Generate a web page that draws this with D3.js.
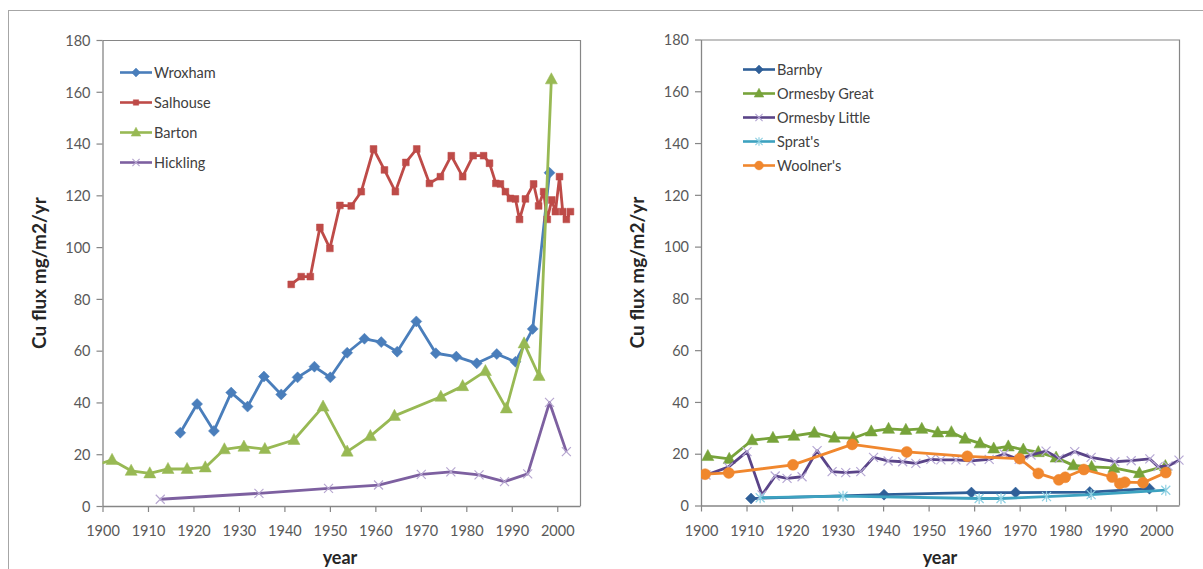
<!DOCTYPE html>
<html><head><meta charset="utf-8">
<script src="https://cdn.jsdelivr.net/npm/d3@7/dist/d3.min.js"></script>
<style>
body{margin:0;background:#fff;}
svg{display:block;font-family:Lato,"Open Sans",sans-serif;}
</style>
</head><body>
<svg id="c" width="1203" height="569"></svg>
<script>
// ---- tick labels ----
const xTicks = [1900,1910,1920,1930,1940,1950,1960,1970,1980,1990,2000];
const yTicks = [0,20,40,60,80,100,120,140,160,180];
const xDomain = [1900, 2005];
const yDomain = [0, 180];

// ---- left chart series: [year, Cu flux] ----
const wroxham = [[1917.1,28.3],[1920.8,39.4],[1924.5,29.0],[1928.3,43.8],[1931.9,38.4],[1935.5,50.0],[1939.3,43.1],[1942.9,49.7],[1946.6,53.8],[1950.1,49.7],[1953.8,59.2],[1957.6,64.6],[1961.3,63.3],[1964.8,59.6],[1969.0,71.3],[1973.3,59.0],[1977.8,57.7],[1982.3,55.1],[1986.7,58.7],[1990.8,55.7],[1994.6,68.4],[1998.3,128.7]];
const salhouse = [[1941.5,85.6],[1943.7,88.6],[1945.7,88.6],[1947.8,107.6],[1950.0,99.5],[1952.2,116.1],[1954.7,115.9],[1956.9,121.4],[1959.6,137.9],[1962.0,129.8],[1964.4,121.4],[1966.7,132.7],[1969.1,137.9],[1971.9,124.6],[1974.3,127.2],[1976.7,135.3],[1979.2,127.2],[1981.5,135.3],[1983.8,135.3],[1985.1,132.4],[1986.5,124.6],[1987.5,124.4],[1988.6,121.4],[1989.7,118.8],[1990.8,118.6],[1991.7,110.7],[1993.0,118.6],[1994.8,124.4],[1995.9,115.9],[1997.0,121.4],[1997.8,110.7],[1998.8,118.2],[1999.6,113.7],[2000.5,127.2],[2001.2,113.7],[2002.0,110.7],[2002.9,113.7]];
const barton = [[1898.5,15.8],[1902.1,17.8],[1906.3,13.6],[1910.4,12.6],[1914.4,14.3],[1918.6,14.3],[1922.6,14.9],[1926.8,21.9],[1931.1,22.9],[1935.7,22.0],[1942.1,25.5],[1948.5,38.4],[1953.8,21.0],[1958.9,27.0],[1964.2,34.8],[1974.4,42.2],[1979.2,46.3],[1984.2,52.1],[1988.8,37.7],[1992.7,62.8],[1996.0,50.2],[1998.7,164.8]];
const hickling = [[1912.7,2.6],[1934.4,4.9],[1949.7,6.8],[1960.7,8.1],[1970.1,12.2],[1976.6,13.2],[1982.8,12.0],[1988.4,9.4],[1993.5,12.4],[1998.3,40.0],[2002.0,21.0]];

// ---- right chart series ----
const barnby = [[1911.0,2.7],[1940.2,4.2],[1959.4,5.0],[1969.1,5.0],[1985.4,5.2],[1998.5,6.5]];
const ormesbyGreat = [[1901.5,19.1],[1906.2,18.0],[1911.2,25.2],[1915.8,26.1],[1920.4,26.9],[1924.9,28.1],[1929.3,26.2],[1933.4,26.0],[1937.4,28.6],[1941.2,29.6],[1945.0,29.2],[1948.5,29.6],[1952.0,28.2],[1955.0,28.3],[1958.0,25.8],[1961.3,24.0],[1964.3,22.0],[1967.5,22.8],[1970.8,21.6],[1974.1,20.6],[1978.0,18.5],[1981.8,15.5],[1985.8,14.9],[1990.7,14.5],[1996.3,12.5],[2002.0,15.2]];
const ormesbyLittle = [[1901.1,11.8],[1906.0,14.8],[1910.1,20.8],[1913.4,4.1],[1916.3,11.4],[1918.9,10.5],[1922.2,11.1],[1925.5,21.2],[1928.8,13.1],[1931.8,12.7],[1935.1,13.1],[1937.9,18.6],[1941.1,17.2],[1944.3,16.9],[1947.2,16.3],[1950.5,17.8],[1952.7,17.6],[1956.0,17.6],[1959.3,17.2],[1963.3,17.8],[1966.6,19.9],[1969.9,17.8],[1972.5,19.5],[1975.8,21.0],[1978.7,18.2],[1982.1,20.8],[1985.7,18.6],[1990.9,16.9],[1994.5,17.3],[1998.6,18.0],[2000.4,15.0],[2002.6,15.3],[2005.0,17.5]];
const sprats = [[1913.0,3.0],[1931.2,3.6],[1961.1,2.7],[1965.9,2.7],[1975.9,3.4],[1985.7,4.2],[2002.1,5.9]];
const woolners = [[1900.9,12.1],[1906.1,12.6],[1920.2,15.7],[1933.2,23.6],[1945.2,20.7],[1958.5,19.0],[1970.0,18.1],[1974.1,12.4],[1978.6,9.9],[1980.0,10.9],[1984.1,13.9],[1990.3,11.0],[1992.0,8.5],[1993.1,9.0],[1997.1,8.8],[2002.1,12.7]];

// ---- styling / layout ----
const svg = d3.select("#c");
const AX = "#868686", LBL = "#595959";

// outer frame
svg.append("rect").attr("x",8.5).attr("y",10.5).attr("width",1210).attr("height",580)
  .attr("fill","none").attr("stroke","#a6a6a6").attr("stroke-width",1);

function markerPath(type, s){
  switch(type){
    case "diamond": return `M0,${-s}L${s},0L0,${s}L${-s},0Z`;
    case "square": return `M${-s},${-s}H${s}V${s}H${-s}Z`;
    case "triangle": return `M0,${-s*1.1}L${s},${s*0.75}L${-s},${s*0.75}Z`;
    case "x": return `M${-s},${-s}L${s},${s}M${-s},${s}L${s},${-s}`;
    case "star": return `M${-s},${-s}L${s},${s}M${-s},${s}L${s},${-s}M0,${-s*1.2}V${s*1.2}`;
    case "circle": return d3.symbol(d3.symbolCircle, Math.PI*s*s)();
  }
}
const filled = t => t==="diamond"||t==="square"||t==="triangle"||t==="circle";

function chart(opts){
  const {x0,x1,y0,y1,series,legendX,legendY,legendStep,titleX,id} = opts;
  const x = d3.scaleLinear().domain(xDomain).range([x0,x1]);
  const y = d3.scaleLinear().domain(yDomain).range([y0,y1]);
  const g = svg.append("g");

  // plot border (top/right)
  g.append("path").attr("d",`M${x0},${y1+0.5}H${x1+0.5}V${y0}`)
   .attr("fill","none").attr("stroke",AX).attr("stroke-width",1.2);

  const xa = g.append("g").attr("transform",`translate(0,${y0})`)
    .call(d3.axisBottom(x).tickValues(xTicks).tickFormat(d3.format("d")).tickSize(6).tickSizeOuter(0));
  const ya = g.append("g").attr("transform",`translate(${x0},0)`)
    .call(d3.axisLeft(y).tickValues(yTicks).tickSize(6).tickSizeOuter(0));
  [xa,ya].forEach(a=>{
    a.select(".domain").attr("stroke",AX).attr("stroke-width",1.3);
    a.selectAll(".tick line").attr("stroke",AX).attr("stroke-width",1.2);
    a.selectAll(".tick text").attr("fill",LBL).style("font-size","14.5px").style("font-family","Lato,'Open Sans',sans-serif");
  });
  xa.selectAll(".tick text").attr("dy","0").attr("y",30);
  ya.selectAll(".tick text").attr("x",-12).attr("dy","0.36em");

  // titles
  g.append("text").attr("x",titleX).attr("y",564)
    .attr("text-anchor","middle").attr("fill","#262626")
    .style("font-size","18px").style("font-weight","bold").text("year");
  g.append("text").attr("transform",`translate(${opts.yTitleX},${(y0+y1)/2}) rotate(-90)`)
    .attr("text-anchor","middle").attr("fill","#262626")
    .style("font-size","19px").style("font-weight","bold").text("Cu flux mg/m2/yr");

  // clip
  const clipId = "clip"+id;
  svg.append("clipPath").attr("id",clipId).append("rect")
    .attr("x",x0).attr("y",y1-10).attr("width",x1-x0+8).attr("height",y0-y1+20);

  const line = d3.line().x(d=>x(d[0])).y(d=>y(d[1]));
  series.forEach(s=>{
    const sg = g.append("g").attr("clip-path",`url(#${clipId})`);
    sg.append("path").datum(s.data).attr("d",line).attr("fill","none")
      .attr("stroke",s.color).attr("stroke-width",2.8).attr("stroke-linejoin","round");
    sg.selectAll("path.m").data(s.data).join("path").attr("class","m")
      .attr("transform",d=>`translate(${x(d[0])},${y(d[1])})`)
      .attr("d",markerPath(s.marker,s.size))
      .attr("fill",filled(s.marker)?s.mcolor:"none")
      .attr("stroke",s.mcolor).attr("stroke-width",filled(s.marker)?0.5:1.2);
  });

  // legend
  series.forEach((s,i)=>{
    const ly = legendY + i*legendStep;
    const lg = g.append("g");
    lg.append("line").attr("x1",legendX).attr("x2",legendX+32).attr("y1",ly).attr("y2",ly)
      .attr("stroke",s.color).attr("stroke-width",2.6);
    lg.append("path").attr("transform",`translate(${legendX+16},${ly})`)
      .attr("d",markerPath(s.marker,s.size*0.8))
      .attr("fill",filled(s.marker)?s.mcolor:"none")
      .attr("stroke",s.mcolor).attr("stroke-width",filled(s.marker)?0.5:1.2);
    lg.append("text").attr("x",legendX+34).attr("y",ly).attr("dy","0.35em")
      .attr("fill","#404040").style("font-size","14.5px").text(s.name);
  });
}

chart({
  id:"L", x0:102.5, x1:580, y0:506, y1:40, titleX:340, yTitleX:46,
  legendX:120, legendY:72.5, legendStep:30,
  series:[
    {name:"Wroxham", data:wroxham, color:"#4A7EBB", mcolor:"#4A7EBB", marker:"diamond", size:5.5},
    {name:"Salhouse", data:salhouse, color:"#BE4B48", mcolor:"#BE4B48", marker:"square", size:3.4},
    {name:"Barton", data:barton, color:"#98B954", mcolor:"#98B954", marker:"triangle", size:6},
    {name:"Hickling", data:hickling, color:"#7D60A0", mcolor:"#B7A7D0", marker:"x", size:4.5}
  ]
});
chart({
  id:"R", x0:701, x1:1179, y0:505.5, y1:39.5, titleX:940, yTitleX:644,
  legendX:743, legendY:69.5, legendStep:24,
  series:[
    {name:"Barnby", data:barnby, color:"#2F5F98", mcolor:"#2F5F98", marker:"diamond", size:5.5},
    {name:"Ormesby Great", data:ormesbyGreat, color:"#77A33A", mcolor:"#77A33A", marker:"triangle", size:6},
    {name:"Ormesby Little", data:ormesbyLittle, color:"#5A4488", mcolor:"#B6A8D4", marker:"x", size:4.5},
    {name:"Sprat's", data:sprats, color:"#3DA2C0", mcolor:"#8FD0E2", marker:"star", size:4.5},
    {name:"Woolner's", data:woolners, color:"#F0872E", mcolor:"#F0872E", marker:"circle", size:5.5}
  ]
});
</script>
</body></html>
